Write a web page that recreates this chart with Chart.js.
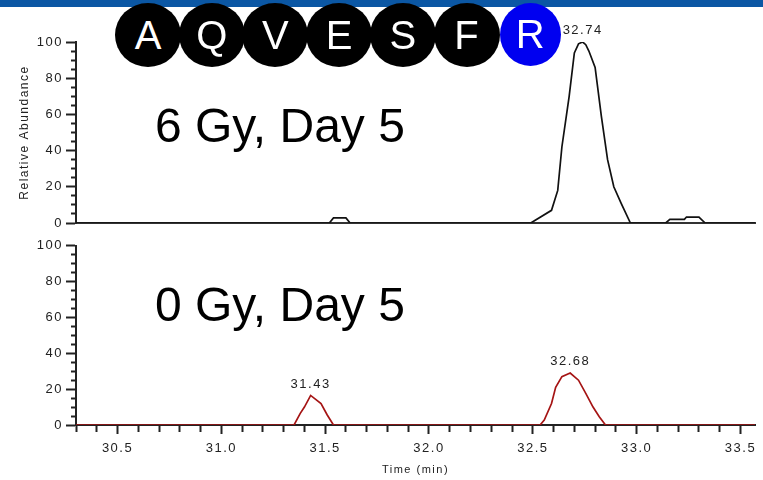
<!DOCTYPE html>
<html>
<head>
<meta charset="utf-8">
<script src="https://cdn.jsdelivr.net/npm/chart.js@4.4.1/dist/chart.umd.min.js"></script>
<style>
  html, body { margin: 0; padding: 0; background: #fff; }
  #wrap { position: relative; width: 763px; height: 480px; overflow: hidden; font-family: "Liberation Sans", Arial, sans-serif; }
  #band { position: absolute; left: 0; top: 0; width: 763px; height: 7px; background: #0b57a4; }
  canvas { position: absolute; left: 0; }
  #c1 { top: 0; }
  #c2 { top: 235px; }
  .res { position: absolute; top: 3px; width: 66px; height: 64px; border-radius: 50%; background: #000; color: #fff;
         font-size: 40px; line-height: 64px; text-align: center; }
</style>
</head>
<body>
<div id="wrap">
  <div id="band"></div>
  <canvas id="c1" width="763" height="235"></canvas>
  <canvas id="c2" width="763" height="245"></canvas>
</div>
<script>
// peptide sequence shown above the traces
const residues = ['A', 'Q', 'V', 'E', 'S', 'F', 'R'];
const residueColors = ['#000', '#000', '#000', '#000', '#000', '#000', '#0000f0'];

// axis ticks
const xLabels = ['30.5', '31.0', '31.5', '32.0', '32.5', '33.0', '33.5'];
const yLabels = [0, 20, 40, 60, 80, 100];

// 6 Gy, Day 5 trace (time in min, relative abundance)
const topTime  = [30.30, 31.52, 31.54, 31.60, 31.62, 32.49, 32.59, 32.62, 32.64, 32.675, 32.70, 32.72, 32.74, 32.755, 32.77, 32.80, 32.83, 32.86, 32.89, 32.925, 32.97, 33.14, 33.16, 33.23, 33.24, 33.30, 33.33, 33.57];
const topAbund = [0,     0,     2.8,   2.8,   0,     0,     7,     18,    42,    70,     94,    99,    100,   98.5,   95,    86,    59,    35,    20,    11,     0,     0,     2,     2,     3.3,   3.3,   0,     0];
const topPeakTimes  = [32.74];
const topPeakValues = [100];
const topPeakLabels = ['32.74'];

// 0 Gy, Day 5 trace
const botTime  = [30.30, 31.35, 31.38, 31.40, 31.43, 31.48, 31.51, 31.54, 32.535, 32.555, 32.59, 32.61, 32.64, 32.68, 32.72, 32.755, 32.79, 32.82, 32.85, 33.57];
const botAbund = [0,     0,     6.5,   10,    16.5,  12,    5.6,   0,     0,      2.8,    12,    21,    27,    29,    25,    17.6,   10,    4.6,   0,     0];
const botPeakTimes  = [31.43, 32.68];
const botPeakValues = [16.5, 29];
const botPeakLabels = ['31.43', '32.68'];

const X_MIN = 30.3, X_MAX = 33.57;

Chart.defaults.font.family = '"Liberation Sans", Arial, sans-serif';
Chart.defaults.color = '#222';

// residue badges
const wrap = document.getElementById('wrap');
residues.forEach((r, i) => {
    const d = document.createElement('div');
    d.className = 'res';
    d.textContent = r;
    d.style.background = residueColors[i];
    const cx = 148 + i * 63.7;
    if (i === residues.length - 1) {
        d.style.width = '61px';
        d.style.height = '63px';
        d.style.lineHeight = '63px';
        d.style.left = (cx - 30.5) + 'px';
    } else {
        d.style.left = (cx - 33) + 'px';
    }
    wrap.appendChild(d);
});

const spacing = {
    id: 'spacing',
    beforeDraw(chart) { chart.ctx.letterSpacing = '1.5px'; }
};

const annotations = {
    id: 'annotations',
    afterDatasetsDraw(chart, args, opts) {
        const { ctx, scales: { x, y } } = chart;
        ctx.save();
        ctx.font = '13px "Liberation Sans", Arial, sans-serif';
        ctx.letterSpacing = '1.5px';
        ctx.fillStyle = '#222';
        ctx.textAlign = 'center';
        ctx.textBaseline = 'bottom';
        opts.times.forEach((t, i) => {
            ctx.fillText(opts.labels[i], x.getPixelForValue(t), y.getPixelForValue(opts.values[i]) - 5);
        });
        ctx.font = '48px "Liberation Sans", Arial, sans-serif';
        ctx.letterSpacing = '0px';
        ctx.textAlign = 'left';
        ctx.textBaseline = 'alphabetic';
        ctx.fillStyle = '#000';
        ctx.fillText(opts.title, chart.chartArea.left + 79, opts.titleY);
        ctx.restore();
    }
};

function yAxis(title) {
    return {
        min: 0, max: 100,
        ticks: {
            stepSize: 5, autoSkip: false, padding: 3, font: { size: 13 },
            callback: v => yLabels.includes(v) ? String(v) : ''
        },
        grid: {
            drawOnChartArea: false, tickLength: 10, tickWidth: 2, tickColor: '#222',
            tickBorderDash: c => (c.tick && yLabels.includes(c.tick.value)) ? [] : [5, 5],
            tickBorderDashOffset: 5
        },
        border: { color: '#222', width: 2 },
        title: title ? { display: true, text: title, font: { size: 12 }, padding: { top: 17 } } : { display: false },
        afterFit: s => { s.width = 76; }
    };
}

function series(times, vals, color) {
    return {
        data: times.map((t, i) => ({ x: t, y: vals[i] })),
        borderColor: color,
        borderWidth: 1.7,
        pointRadius: 0,
        tension: 0,
        fill: false
    };
}

new Chart(document.getElementById('c1'), {
    type: 'line',
    data: { datasets: [series(topTime, topAbund, '#111')] },
    options: {
        responsive: false,
        animation: false,
        layout: { padding: { top: 42, right: 8, bottom: 12, left: 0 } },
        plugins: {
            legend: { display: false },
            tooltip: { enabled: false },
            annotations: { times: topPeakTimes, values: topPeakValues, labels: topPeakLabels, title: '6 Gy, Day 5', titleY: 142 }
        },
        scales: {
            x: {
                type: 'linear', min: X_MIN, max: X_MAX,
                ticks: { display: false },
                grid: { display: false, drawTicks: false },
                border: { color: '#333', width: 2 },
                afterFit: s => { s.height = 0; }
            },
            y: yAxis('Relative Abundance')
        }
    },
    plugins: [spacing, annotations]
});

new Chart(document.getElementById('c2'), {
    type: 'line',
    data: { datasets: [series(botTime, botAbund, '#a51414')] },
    options: {
        responsive: false,
        animation: false,
        layout: { padding: { top: 10, right: 8, bottom: 0, left: 0 } },
        plugins: {
            legend: { display: false },
            tooltip: { enabled: false },
            annotations: { times: botPeakTimes, values: botPeakValues, labels: botPeakLabels, title: '0 Gy, Day 5', titleY: 86 }
        },
        scales: {
            x: {
                type: 'linear', min: X_MIN, max: X_MAX,
                // one tick every 0.1 min across the axis
                afterBuildTicks: s => {
                    const ticks = [];
                    for (let k = Math.ceil(s.min * 10 - 1e-6); k <= Math.floor(s.max * 10 + 1e-6); k++) {
                        ticks.push({ value: k / 10 });
                    }
                    s.ticks = ticks;
                },
                ticks: {
                    autoSkip: false, maxRotation: 0, padding: 7, font: { size: 13 },
                    callback: v => xLabels.includes(v.toFixed(1)) ? v.toFixed(1) : ''
                },
                grid: {
                    drawOnChartArea: false, tickLength: 9, tickWidth: 2, tickColor: '#222',
                    tickBorderDash: c => (c.tick && xLabels.includes(c.tick.value.toFixed(1))) ? [] : [6, 20]
                },
                border: { color: '#222', width: 2 },
                title: { display: true, text: 'Time (min)', font: { size: 11 }, padding: { bottom: 3 } },
                afterFit: s => { s.height = 55; }
            },
            y: yAxis(null)
        }
    },
    plugins: [spacing, annotations]
});
</script>
</body>
</html>
